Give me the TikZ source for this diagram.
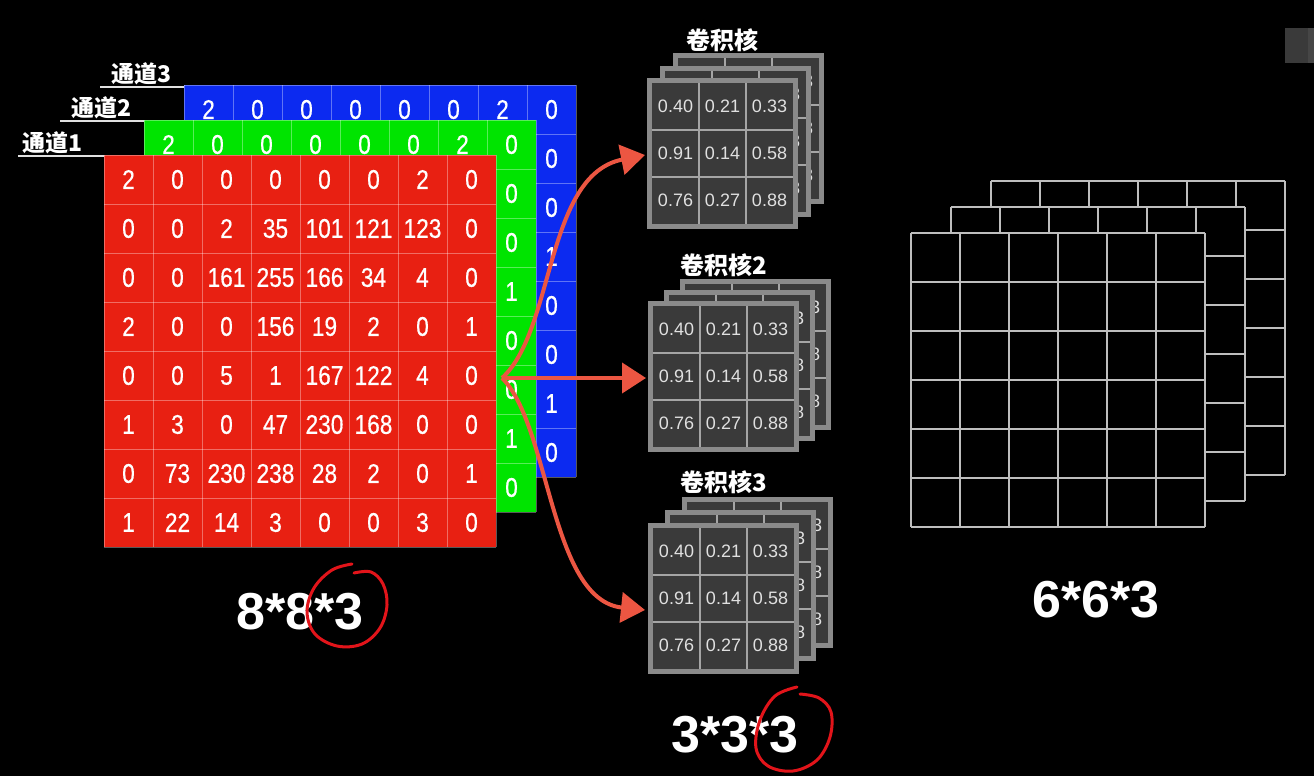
\documentclass[tikz,border=0pt]{standalone}
\usepackage{fontspec}
\setmainfont{Liberation Sans}
\newfontfamily\cjk{Noto Sans CJK SC}
\newfontfamily\medfam[FakeBold=0.6]{Liberation Sans}
\usetikzlibrary{arrows.meta}
\definecolor{cred}{RGB}{232,32,18}
\definecolor{cgreen}{RGB}{0,228,0}
\definecolor{cblue}{RGB}{12,42,240}
\definecolor{arrowc}{RGB}{236,86,66}
\definecolor{circc}{RGB}{226,20,26}
\definecolor{kframe}{RGB}{138,138,138}
\definecolor{kcell}{RGB}{58,58,58}
\definecolor{kline}{RGB}{165,165,165}
\definecolor{ogline}{RGB}{190,190,190}
\definecolor{uibox}{RGB}{58,58,58}
\definecolor{uibox2}{RGB}{70,70,70}

\newcommand\matdata{{2,0,0,0,0,0,2,0},{0,0,2,35,101,121,123,0},{0,0,161,255,166,34,4,0},{2,0,0,156,19,2,0,1},{0,0,5,1,167,122,4,0},{1,3,0,47,230,168,0,0},{0,73,230,238,28,2,0,1},{1,22,14,3,0,0,3,0}}

\tikzset{
  cellline/.style={draw=white, draw opacity=0.35, line width=1pt},
  cellnum/.style={text=white, inner sep=0pt, font=\medfam\fontsize{27}{30}\selectfont},
  knum/.style={text=white!88!black, inner sep=0pt, font=\fontsize{18}{20}\selectfont},
  kline/.style={draw=kline, line width=1.6pt},
  ogl/.style={draw=ogline, line width=1.5pt},
  chlabel/.style={text=white, inner sep=0pt, font=\cjk\bfseries\fontsize{23}{26}\selectfont},
  ktitle/.style={text=white, inner sep=0pt, font=\cjk\bfseries\fontsize{24}{27}\selectfont},
  ul/.style={draw=white!88!black, line width=2pt},
  big/.style={text=white, inner sep=0pt, font=\bfseries\fontsize{52}{56}\selectfont},
  arr/.style={draw=arrowc, line width=4pt, -{Triangle[length=24pt,width=30pt]}},
  circ/.style={draw=circc, line width=3pt, line cap=round},
}

% #1 x, #2 y, #3 colour, #4 name, #5 = 1: all numbers, 0: only the visible top row and last column
\newcommand\chlayer[5]{%
  \fill[#3] (#1,#2) rectangle ++(392,392);
  \foreach \i in {0,...,8} {
    \draw[cellline] (#1+49*\i,#2) -- ++(0,392);
    \draw[cellline] (#1,#2+49*\i) -- ++(392,0);
  }
  \foreach \row [count=\ri from 0] in \matdata {
    \foreach \v [count=\ci from 0] in \row {
      \ifnum\ri=0 \def\shownum{1}\else\ifnum\ci=7 \def\shownum{1}\else\def\shownum{#5}\fi\fi
      \ifnum\shownum=1
        \node[cellnum] (#4-\ri-\ci) at (#1+24.5+49*\ci,#2+24.5+49*\ri) {\scalebox{0.84}[1]{\v}};
      \fi
    }
  }
}

% #1 x, #2 y, #3 name, #4 = 1: all numbers, 0: only the visible right column
\newcommand\kgrid[4]{%
  \fill[kframe] (#1,#2) rectangle ++(151,151);
  \fill[kcell] (#1+5,#2+5) rectangle ++(141,141);
  \foreach \i in {1,2} {
    \draw[kline] (#1+5+47*\i,#2+5) -- ++(0,141);
    \draw[kline] (#1+5,#2+5+47*\i) -- ++(141,0);
  }
  \foreach \row [count=\ri from 0] in {{0.40,0.21,0.33},{0.91,0.14,0.58},{0.76,0.27,0.88}} {
    \foreach \v [count=\ci from 0] in \row {
      \ifnum\ci=2 \def\shownum{1}\else\def\shownum{#4}\fi
      \ifnum\shownum=1
        \node[knum] (#3-\ri-\ci) at (#1+28.5+47*\ci,#2+28.5+47*\ri) {\v};
      \fi
    }
  }
}

\newcommand\ogrid[2]{%
  \fill[black] (#1,#2) rectangle ++(294,294);
  \foreach \i in {0,...,6} {
    \draw[ogl] (#1+49*\i,#2) -- ++(0,294);
    \draw[ogl] (#1,#2+49*\i) -- ++(294,0);
  }
}

\begin{document}
\begin{tikzpicture}[x=1pt,y=-1pt]
\fill[black] (0,0) rectangle (1314,776);
\useasboundingbox (0,0) rectangle (1314,776);

% UI box top right
\fill[uibox] (1285,28) rectangle (1314,63);
\fill[uibox2] (1308,28) rectangle (1314,63);

% input channels
\chlayer{184}{85}{cblue}{B}{0}
\chlayer{144}{120}{cgreen}{G}{0}
\chlayer{104}{155}{cred}{R}{1}

% channel labels
\node[chlabel] (l3) at (142,74) {通道3};
\draw[ul] (100,87) -- (184,87);
\node[chlabel] (l2) at (102,108) {通道2};
\draw[ul] (60,121) -- (144,121);
\node[chlabel] (l1) at (53,143) {通道1};
\draw[ul] (18,156) -- (104,156);

% kernels
\node[ktitle] (kt1) at (722,40) {卷积核};
\kgrid{673}{53}{KA3}{0}
\kgrid{660}{66}{KA2}{0}
\kgrid{647}{78}{KA1}{1}

\node[ktitle] (kt2) at (724,265) {卷积核2};
\kgrid{680}{279}{KB3}{0}
\kgrid{664}{290}{KB2}{0}
\kgrid{648}{301}{KB1}{1}

\node[ktitle] (kt3) at (724,482) {卷积核3};
\kgrid{682}{497}{KC3}{0}
\kgrid{665}{510}{KC2}{0}
\kgrid{648}{523}{KC1}{1}

% output
\ogrid{991}{181}
\ogrid{951}{207}
\ogrid{911}{233}

% size labels
\node[big] (s1) at (300,612) {8*8*3};
\node[big] (s2) at (735,735) {3*3*3};
\node[big] (s3) at (1096,600) {6*6*3};

% arrows
\coordinate (src) at (502,378);
\coordinate (t1) at (645,155);
\coordinate (t2) at (646,378);
\coordinate (t3) at (645,610);
\draw[arr] (src) .. controls (555,330) and (545,175) .. (t1);
\draw[arr] (src) -- (t2);
\draw[arr] (src) .. controls (550,425) and (550,600) .. (t3);

% hand-drawn circles
\draw[circ] plot[smooth, tension=0.6] coordinates {(352,564) (332,570) (314,588) (307,612) (315,634) (337,646) (362,644) (380,628) (387,605) (383,584) (371,572) (354,573)};
\draw[circ] plot[smooth, tension=0.6] coordinates {(797,687) (775,696) (760,720) (756,748) (768,766) (793,771) (817,760) (830,737) (831,712) (819,698) (800,694)};
\end{tikzpicture}
\end{document}
